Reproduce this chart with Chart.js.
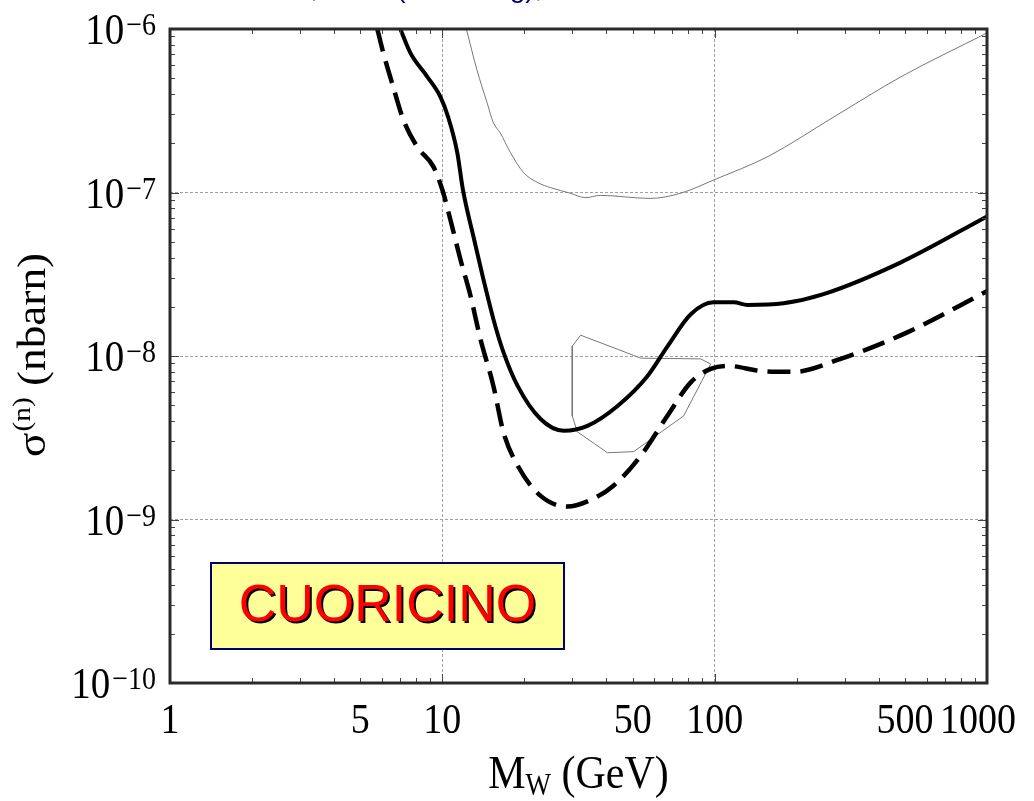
<!DOCTYPE html>
<html>
<head>
<meta charset="utf-8">
<script src="https://cdn.jsdelivr.net/npm/chart.js@4.4.1/dist/chart.umd.min.js"></script>
<style>
  html, body { margin: 0; padding: 0; background: #fff; }
  canvas { display: block; }
</style>
</head>
<body>
<canvas id="chart" width="1034" height="801"></canvas>
<script>
// values: M_W in GeV, sigma in nbarn
const solidX = [7.01, 7.63, 8.81, 9.84, 10.5, 11.35, 11.9, 13.0, 14.15, 15.4, 16.75, 18.9, 22.9, 27.9, 34.1, 44, 56.7, 67.2, 81.7, 99, 117.5, 132, 179, 251, 483, 1000];
const solidY = [1e-6, 7.15e-7, 5.1e-7, 3.85e-7, 2.9e-7, 1.75e-7, 1.04e-7, 5.4e-8, 2.95e-8, 1.68e-8, 1.06e-8, 6.56e-9, 4.13e-9, 3.49e-9, 3.74e-9, 4.95e-9, 7.55e-9, 1.15e-8, 1.8e-8, 2.13e-8, 2.13e-8, 2.05e-8, 2.1e-8, 2.39e-8, 3.74e-8, 7.14e-8];

const dashX = [5.77, 6.07, 6.6, 7.19, 8.09, 9.27, 10, 10.7, 11.65, 12.7, 13.8, 15.4, 16.75, 18.9, 22.9, 28.8, 34.1, 42.5, 53.5, 67, 81.7, 96.7, 112, 147.6, 195, 290, 512, 1000];
const dashY = [1e-6, 7.15e-7, 4.43e-7, 2.79e-7, 1.9e-7, 1.44e-7, 1.04e-7, 6.84e-8, 3.9e-8, 2.32e-8, 1.27e-8, 6.56e-9, 3.44e-9, 2.14e-9, 1.4e-9, 1.2e-9, 1.29e-9, 1.61e-9, 2.45e-9, 4.3e-9, 6.9e-9, 8.34e-9, 8.7e-9, 8.1e-9, 8.0e-9, 9.6e-9, 1.4e-8, 2.49e-8];

const thinX = [12.25, 13.4, 14.6, 15.4, 16.3, 17.8, 19.9, 22.4, 25, 29.5, 33.5, 38, 58, 75, 100, 157, 274, 483, 1000];
const thinY = [1e-6, 5.62e-7, 3.54e-7, 2.67e-7, 2.32e-7, 1.75e-7, 1.32e-7, 1.15e-7, 1.07e-7, 9.9e-8, 9.3e-8, 9.6e-8, 9.2e-8, 9.9e-8, 1.2e-7, 1.66e-7, 2.9e-7, 5.1e-7, 9.46e-7];

// closed contour
const regionX = [32.2, 30, 30, 31.3, 40.4, 50.4, 76.9, 96.7, 88.9, 53.5, 44, 32.2];
const regionY = [1.34e-8, 1.15e-8, 4.3e-9, 3.44e-9, 2.56e-9, 2.6e-9, 4.3e-9, 8.93e-9, 9.6e-9, 9.7e-9, 1.1e-8, 1.34e-8];

const xTickLabels = [1, 5, 10, 50, 100, 500, 1000];
const yTickValues = [1e-10, 1e-9, 1e-8, 1e-7, 1e-6];
const xGridValues = [10, 100];
const yGridValues = [1e-9, 1e-8, 1e-7];

const SERIF = "'Liberation Serif', 'Times New Roman', serif";
const SY = 1.13; // the source picture is stretched vertically a bit

const toPoints = (xs, ys) => xs.map((x, i) => ({ x: x, y: ys[i] }));

function drawText(ctx, s, x, y, size, align) {
    ctx.save();
    ctx.font = size + 'px ' + SERIF;
    ctx.textAlign = align || 'left';
    ctx.textBaseline = 'alphabetic';
    ctx.translate(x, y);
    ctx.scale(1, SY);
    ctx.fillText(s, 0, 0);
    ctx.restore();
}

function textWidth(ctx, s, size) {
    ctx.font = size + 'px ' + SERIF;
    return ctx.measureText(s).width;
}

// values for the inward ticks on the frame
function logTicks(lo, hi) {
    const out = [];
    for (let d = lo; d < hi; d++) {
        for (let m = 1; m <= 9; m++) out.push({ v: m * Math.pow(10, d), major: m === 1 });
    }
    out.push({ v: Math.pow(10, hi), major: true });
    return out;
}

const framePlugin = {
    id: 'frame',
    afterDraw(chart) {
        const ctx = chart.ctx;
        const a = chart.chartArea;
        const xs = chart.scales.x, ys = chart.scales.y;

        // inward ticks
        ctx.save();
        ctx.strokeStyle = '#444';
        ctx.lineWidth = 1;
        ctx.beginPath();
        logTicks(0, 3).forEach(t => {
            const px = Math.round(xs.getPixelForValue(t.v)) + 0.5;
            const len = t.major ? 9 : 5;
            ctx.moveTo(px, a.bottom); ctx.lineTo(px, a.bottom - len);
            ctx.moveTo(px, a.top); ctx.lineTo(px, a.top + len);
        });
        logTicks(-10, -6).forEach(t => {
            const py = Math.round(ys.getPixelForValue(t.v)) + 0.5;
            const len = t.major ? 9 : 5;
            ctx.moveTo(a.left, py); ctx.lineTo(a.left + len, py);
            ctx.moveTo(a.right, py); ctx.lineTo(a.right - len, py);
        });
        ctx.stroke();

        // frame
        ctx.strokeStyle = '#2a2a2a';
        ctx.lineWidth = 3;
        ctx.strokeRect(a.left, a.top, a.right - a.left, a.bottom - a.top);
        ctx.restore();

        ctx.save();
        ctx.fillStyle = '#000';
        // x tick labels
        xTickLabels.forEach(v => {
            const s = String(v);
            let cx = xs.getPixelForValue(v);
            const half = textWidth(ctx, s, 38) / 2;
            if (cx + half > 1016) cx = 1016 - half;
            drawText(ctx, s, cx, 733, 38, 'center');
        });
        // y tick labels 10^n
        yTickValues.forEach(v => {
            const py = ys.getPixelForValue(v);
            const ex = '\u2212' + String(-Math.round(Math.log10(v)));
            const right = 156;
            const ew = textWidth(ctx, ex, 28);
            drawText(ctx, ex, right - ew, py + 6, 28, 'left');
            drawText(ctx, '10', right - ew - 2, py + 15, 39, 'right');
        });

        // x title: M_W (GeV)
        const wM = textWidth(ctx, 'M', 42), wW = textWidth(ctx, 'W', 27), wG = textWidth(ctx, ' (GeV)', 42);
        let tx = (a.left + a.right) / 2 - (wM + wW + wG) / 2;
        drawText(ctx, 'M', tx, 788, 42); tx += wM;
        drawText(ctx, 'W', tx, 795, 27); tx += wW;
        drawText(ctx, ' (GeV)', tx, 788, 42);

        // y title: sigma^(n) (nbarn), rotated
        ctx.save();
        ctx.translate(45, 457);
        ctx.rotate(-Math.PI / 2);
        ctx.scale(SY, 1);
        ctx.font = '40px ' + SERIF;
        ctx.textBaseline = 'alphabetic';
        ctx.fillText('\u03c3', 0, 0);
        let ox = ctx.measureText('\u03c3').width;
        ctx.font = '26px ' + SERIF;
        ctx.fillText('(n)', ox + 1, -15);
        ox += ctx.measureText('(n)').width + 1;
        ctx.font = '40px ' + SERIF;
        ctx.fillText(' (nbarn)', ox, 0);
        ctx.restore();

        // label box
        const bx = a.left + 41, by = 563, bw = 353, bh = 86;
        ctx.fillStyle = '#ffff99';
        ctx.fillRect(bx, by, bw, bh);
        ctx.strokeStyle = '#000066';
        ctx.lineWidth = 2;
        ctx.strokeRect(bx, by, bw, bh);
        ctx.font = "52px 'Liberation Sans', Arial, sans-serif";
        ctx.textAlign = 'center';
        ctx.textBaseline = 'middle';
        ctx.fillStyle = '#000';
        ctx.fillText('CUORICINO', bx + bw / 2 + 2, by + bh / 2 + 3);
        ctx.fillStyle = '#ff0000';
        ctx.fillText('CUORICINO', bx + bw / 2, by + bh / 2 + 1);

        // cut-off slide caption above the plot
        ctx.font = "28px 'Liberation Sans', Arial, sans-serif";
        ctx.textAlign = 'left';
        ctx.textBaseline = 'alphabetic';
        ctx.fillStyle = '#000080';
        ctx.fillText('WIMP, TeO\u2082 (no mixing), 90% C.L.', 238, -3);
        ctx.restore();
    }
};

const gridColor = list => ctx => list.includes(ctx.tick.value) ? '#a0a0a0' : 'rgba(0,0,0,0)';

new Chart(document.getElementById('chart'), {
    type: 'scatter',
    data: {
        datasets: [{
            label: 'solid',
            data: toPoints(solidX, solidY),
            showLine: true,
            borderColor: '#000',
            borderWidth: 4,
            pointRadius: 0,
            cubicInterpolationMode: 'monotone'
        }, {
            label: 'dashed',
            data: toPoints(dashX, dashY),
            showLine: true,
            borderColor: '#000',
            borderWidth: 4.5,
            borderDash: [23, 10],
            pointRadius: 0,
            cubicInterpolationMode: 'monotone'
        }, {
            label: 'thin',
            data: toPoints(thinX, thinY),
            showLine: true,
            borderColor: '#777',
            borderWidth: 1,
            pointRadius: 0,
            cubicInterpolationMode: 'monotone'
        }, {
            label: 'region',
            data: toPoints(regionX, regionY),
            showLine: true,
            borderColor: '#777',
            borderWidth: 1,
            pointRadius: 0,
            tension: 0
        }]
    },
    options: {
        responsive: false,
        animation: false,
        layout: { padding: { left: 0, top: 29, right: 47, bottom: 0 } },
        plugins: { legend: { display: false }, tooltip: { enabled: false } },
        scales: {
            x: {
                type: 'logarithmic',
                min: 1,
                max: 1000,
                ticks: { display: false },
                grid: { color: gridColor(xGridValues), drawTicks: false, lineWidth: 1 },
                border: { display: false, dash: [3, 2] },
                afterBuildTicks: s => { s.ticks = xTickLabels.concat(xGridValues).map(v => ({ value: v })); },
                afterFit: s => { s.height = 118; }
            },
            y: {
                type: 'logarithmic',
                min: 1e-10,
                max: 1e-6,
                ticks: { display: false },
                grid: { color: gridColor(yGridValues), drawTicks: false, lineWidth: 1 },
                border: { display: false, dash: [3, 2] },
                afterBuildTicks: s => { s.ticks = yTickValues.map(v => ({ value: v })); },
                afterFit: s => { s.width = 170; }
            }
        }
    },
    plugins: [framePlugin]
});
</script>
</body>
</html>
